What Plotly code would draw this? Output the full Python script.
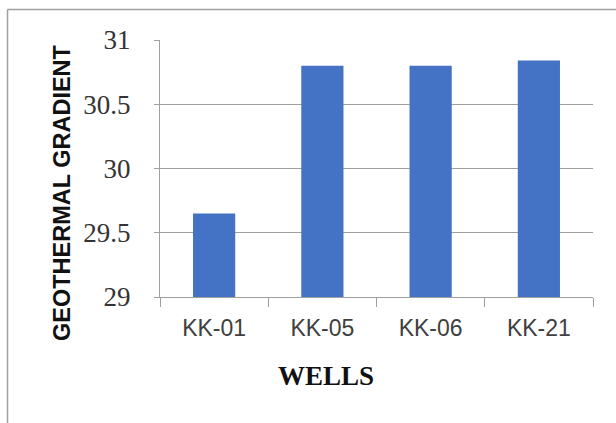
import plotly.graph_objects as go

wells = ["KK-01", "KK-05", "KK-06", "KK-21"]
gradient = [29.65, 30.80, 30.80, 30.84]
y_ticks = [29, 29.5, 30, 30.5, 31]
y_tick_labels = ["29", "29.5", "30", "30.5", "31"]

L, R, T, B = 160, 23, 40, 126
W, H = 616, 423
pw, ph = W - L - R, H - T - B

def px(x):
    return (x - L) / pw

def py(y):
    return (H - B - y) / ph

fig = go.Figure(go.Bar(x=wells, y=gradient, marker=dict(color="#4472C4", line=dict(width=0))))

fig.update_layout(
    width=W, height=H,
    margin=dict(l=L, r=R, t=T, b=B),
    paper_bgcolor="white", plot_bgcolor="white",
    bargap=0.61,
    showlegend=False,
    xaxis=dict(
        showline=True, linecolor="#a0a0a0", linewidth=1.3,
        ticks="outside", tickson="boundaries", ticklen=9, tickcolor="#a0a0a0", tickwidth=1.3,
        tickfont=dict(family="Liberation Sans", size=23, color="#404040"),
        ticklabelstandoff=10,
        showgrid=False,
    ),
    yaxis=dict(
        range=[29, 31], tickvals=y_ticks, ticktext=y_tick_labels,
        showline=True, linecolor="#a0a0a0", linewidth=1.3,
        ticks="outside", ticklen=5, tickcolor="#a0a0a0", tickwidth=1.3,
        showgrid=True, gridcolor="#a0a0a0", gridwidth=1.3,
        zeroline=False,
        tickfont=dict(family="Liberation Serif, Times New Roman, serif", size=27, color="#333333"),
        ticklabelstandoff=18,
    ),
    annotations=[
        dict(text="<b>WELLS</b>", x=px(326), y=py(376), xref="paper", yref="paper",
             showarrow=False, xanchor="center", yanchor="middle",
             font=dict(family="Liberation Serif, serif", size=27, color="#111111")),
        dict(text="<b>GEOTHERMAL GRADIENT</b>", x=px(62), y=py(193), xref="paper", yref="paper",
             showarrow=False, xanchor="center", yanchor="middle", textangle=-90,
             font=dict(family="Liberation Sans", size=23.5, color="#111111")),
    ],
    shapes=[
        dict(type="line", xref="paper", yref="paper", x0=px(7.5), x1=px(7.5), y0=py(9.5), y1=py(430),
             line=dict(color="#a0a0a0", width=1.5)),
        dict(type="line", xref="paper", yref="paper", x0=px(7.5), x1=px(620), y0=py(9.5), y1=py(9.5),
             line=dict(color="#a0a0a0", width=1.5)),
    ],
)

fig.write_html("out.html")
